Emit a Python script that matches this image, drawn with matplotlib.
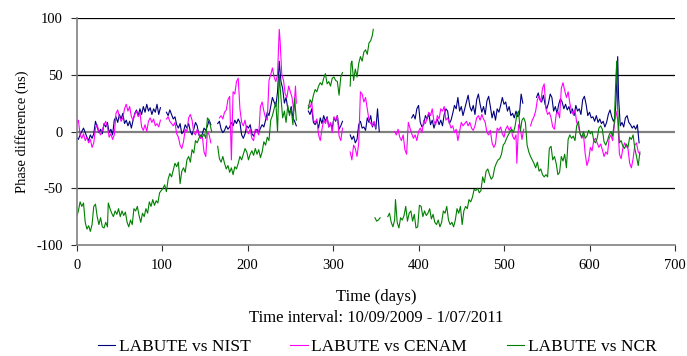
import numpy as np
import matplotlib
matplotlib.use("Agg")
import matplotlib.pyplot as plt

nan = np.nan

# (day, phase difference in ns), nan marks a break in the record
nist = [(0,-5),(2,-7),(4,-3),(6,0),(8,3),(10,-1),(12,-5),(14,-8),(16,-3),(18,-6),
        (20,-2),(22,9),(24,4),(26,-1),(28,2),(30,-2),(32,7),(34,4),(36,8),(38,-1),
        (40,2),(42,-3),(44,10),(46,13),(48,8),(50,15),(52,11),(54,16),(56,7),(58,10),
        (60,5),(62,9),(64,3),(66,10),(68,16),(70,19),(72,14),(74,20),(76,15),(78,22),
        (80,17),(82,24),(84,18),(86,21),(88,15),(90,20),(92,17),(94,24),(96,15),(98,21),
        (101,nan),(105,17),(107,14),(109,19),(111,15),(113,11),(115,13),(117,6),(119,3),
        (121,7),(123,-2),(125,0),(127,6),(129,3),(131,7),(133,0),(135,-3),(137,2),(139,8),
        (141,5),(143,-3),(145,-6),(147,-2),(149,3),(151,1),(153,5),(155,10),(157,6),
        (160,nan),(165,7),(167,9),(169,2),(171,-1),(173,1),(175,5),(177,2),(179,4),(181,8),
        (183,5),(185,10),(187,7),(189,11),(191,8),(193,-3),(195,-6),(197,-2),(199,5),
        (201,3),(203,6),(205,-2),(207,-4),(209,0),(211,2),(213,-1),(215,3),(217,6),(219,4),
        (221,10),(223,17),(225,14),(227,22),(229,30),(231,26),(233,22),(235,35),(237,62),
        (239,44),(241,38),(243,25),(245,30),(247,20),(249,16),(251,22),(253,12),(255,9),
        (257,5),(260,nan),(271,18),(273,15),(275,20),(277,8),(279,6),(281,9),(283,3),
        (285,12),(287,7),(289,14),(291,9),(293,13),(295,4),(297,7),(299,3),(301,12),
        (303,9),(305,14),(307,2),(309,5),(311,9),(314,nan),(320,-3),(322,-7),(324,-4),
        (326,-10),(328,-7),(330,6),(332,9),(334,3),(336,4),(338,1),(340,12),(342,8),
        (344,14),(346,4),(348,8),(350,2),(352,20),(354,0),(356,nan),(392,12),(394,15),
        (396,11),(398,20),(400,23),(402,8),(404,4),(406,6),(408,14),(410,11),(412,16),
        (414,6),(416,10),(418,3),(420,8),(422,11),(424,6),(426,10),(428,5),(430,15),
        (432,20),(434,18),(436,7),(438,10),(440,16),(442,23),(444,20),(446,30),(448,18),
        (450,22),(452,14),(454,20),(456,26),(458,32),(460,22),(462,18),(464,23),(466,15),
        (468,28),(470,33),(472,24),(474,17),(476,22),(478,15),(480,27),(482,31),(484,22),
        (486,12),(488,18),(490,10),(492,20),(494,17),(496,23),(498,30),(500,24),(502,26),
        (504,18),(506,22),(508,14),(510,16),(512,12),(514,18),(516,13),(518,15),(520,33),
        (522,25),(524,nan),(538,30),(540,34),(542,28),(544,26),(546,32),(548,24),(550,20),
        (552,25),(554,33),(556,30),(558,18),(560,22),(562,16),(564,24),(566,29),(568,26),
        (570,20),(572,24),(574,19),(576,22),(578,16),(580,20),(582,14),(584,23),(586,18),
        (588,20),(590,15),(592,28),(594,31),(596,24),(598,14),(600,17),(602,12),(604,13),
        (606,9),(608,14),(610,8),(612,11),(614,7),(616,9),(618,4),(620,8),(622,15),(624,19),
        (626,13),(628,9),(630,12),(632,45),(633,66),(634,30),(636,5),(638,8),(640,4),
        (642,12),(644,14),(646,8),(648,6),(650,3),(652,5),(654,2),(656,6),(658,-10)]

cenam = [(0,8),(2,10),(4,-3),(6,-6),(8,-2),(10,-8),(12,-5),(14,-10),(16,-7),(18,-14),
         (20,-10),(22,3),(24,6),(26,0),(28,-3),(30,1),(32,6),(34,9),(36,4),(38,-5),
         (40,-2),(42,-7),(44,-3),(46,16),(48,19),(50,13),(52,9),(54,12),(56,20),(58,24),
         (60,18),(62,22),(64,13),(66,10),(68,15),(70,18),(72,13),(74,17),(76,4),(78,1),
         (80,6),(82,0),(84,9),(86,12),(88,8),(90,11),(92,5),(94,7),(96,4),(98,10),
         (101,nan),(105,11),(107,13),(109,9),(111,7),(113,5),(115,8),(117,-2),(119,-5),
         (121,-12),(123,-15),(125,-9),(127,2),(129,0),(131,12),(133,15),(135,10),(137,-1),
         (139,-3),(141,2),(143,-2),(145,-6),(147,-4),(149,-18),(151,-22),(153,0),(155,-3),
         (157,-10),(160,nan),(167,12),(169,14),(171,11),(173,17),(175,19),(177,28),(179,31),
         (181,-25),(183,35),(185,33),(187,44),(189,47),(191,20),(193,8),(195,5),(197,10),
         (199,1),(201,-2),(203,2),(205,-6),(207,-8),(209,2),(211,0),(213,-3),(215,22),
         (217,26),(219,18),(221,12),(223,10),(225,45),(227,50),(229,56),(231,48),(233,44),
         (235,50),(237,90),(238,80),(240,50),(242,45),(244,33),(246,30),(248,40),(250,35),
         (252,30),(254,18),(256,40),(257,25),(260,nan),(271,23),(273,21),(275,26),(277,10),
         (279,8),(281,11),(283,-3),(285,-8),(287,2),(289,10),(291,7),(293,12),(295,4),
         (297,8),(299,-1),(301,13),(303,10),(305,14),(307,-4),(309,-8),(311,3),(314,nan),
         (320,-18),(322,-25),(324,-12),(326,-15),(328,-22),(330,-10),(332,35),(334,33),
         (336,26),(338,30),(340,20),(342,10),(344,7),(346,5),(348,9),(350,3),(352,nan),
         (364,10),(366,nan),(372,0),(374,-3),(376,2),(378,-5),(380,-8),(382,-3),(384,-16),
         (386,-20),(388,8),(390,3),(392,-2),(394,-6),(396,-3),(398,-8),(400,0),(402,3),
         (404,-1),(406,10),(408,7),(410,12),(412,17),(414,14),(416,20),(418,9),(420,6),
         (422,14),(424,11),(426,20),(428,18),(430,22),(432,10),(434,12),(436,8),(438,3),
         (440,5),(442,-1),(444,2),(446,-8),(448,0),(450,8),(452,5),(454,7),(456,9),(458,5),
         (460,8),(462,3),(464,1),(466,5),(468,12),(470,14),(472,10),(474,15),(476,11),
         (478,8),(480,-1),(482,-3),(484,1),(486,-10),(488,-14),(490,-11),(492,3),(494,1),
         (496,4),(498,-2),(500,-5),(502,2),(504,5),(506,1),(508,4),(510,-4),(512,-7),
         (514,-3),(515,-28),(517,6),(519,3),(521,-7),(523,2),(526,nan),(531,5),(533,10),
         (535,13),(537,18),(539,28),(541,31),(543,26),(545,38),(547,42),(549,20),(551,15),
         (553,17),(555,12),(557,4),(559,2),(561,15),(563,18),(565,12),(567,38),(569,43),
         (571,36),(573,30),(575,35),(577,25),(579,18),(581,15),(583,19),(585,8),(587,5),
         (589,-2),(591,-6),(593,-3),(595,-20),(597,-30),(599,-25),(601,-14),(603,-17),
         (605,-8),(607,-6),(609,-10),(611,-14),(613,-11),(615,-16),(617,-22),(619,-18),
         (621,-20),(623,-6),(625,-3),(627,-8),(629,5),(631,18),(633,10),(635,-20),(637,-24),
         (639,-15),(641,-10),(643,-13),(645,-15),(647,-28),(649,-32),(651,-24),(653,-12),
         (655,-10),(657,-18),(659,-20)]

ncr = [(0,-75),(2,-70),(4,-62),(6,-66),(8,-63),(10,-80),(12,-86),(14,-83),(16,-88),
       (18,-82),(20,-66),(22,-64),(24,-75),(26,-82),(28,-76),(30,-84),(32,-85),(34,-80),
       (36,-84),(37,-63),(39,-68),(41,-72),(43,-75),(45,-70),(47,-73),(49,-68),(51,-75),
       (53,-70),(55,-74),(57,-71),(59,-80),(61,-84),(63,-78),(65,-82),(67,-68),(69,-70),
       (71,-66),(73,-74),(75,-80),(77,-72),(79,-75),(81,-68),(83,-72),(85,-62),(87,-66),
       (89,-60),(91,-65),(93,-61),(95,-63),(97,-54),(99,-52),(101,-50),(103,-47),(105,-53),
       (107,-42),(109,-37),(111,-40),(113,-34),(115,-28),(117,-31),(119,-27),(121,-46),
       (123,-35),(125,-32),(127,-36),(129,-25),(131,-22),(133,-27),(135,-16),(137,-19),
       (139,-8),(141,-10),(143,-6),(145,-3),(147,-5),(149,-2),(151,-6),(153,12),(155,10),
       (157,3),(158,0),(160,nan),(165,-13),(167,-24),(169,-27),(171,-22),(173,-28),
       (175,-33),(177,-30),(179,-36),(181,-32),(183,-38),(185,-31),(187,-33),(189,-28),
       (191,-22),(193,-25),(195,-20),(197,-15),(199,-18),(201,-25),(203,-20),(205,-17),
       (207,-21),(209,-15),(211,-20),(213,-16),(215,-23),(217,-18),(219,-9),(221,-12),
       (223,-5),(225,-8),(227,10),(229,14),(231,20),(233,26),(235,0),(237,50),(239,30),
       (241,12),(243,18),(245,8),(247,23),(249,14),(251,20),(253,6),(255,29),(257,10),
       (260,nan),(271,20),(273,28),(275,25),(277,32),(279,37),(281,35),(283,40),(285,43),
       (287,41),(289,47),(291,51),(293,42),(295,44),(297,40),(299,47),(301,48),(303,45),
       (305,44),(307,32),(309,48),(311,52),(314,nan),(320,40),(321,60),(322,62),(324,45),
       (326,55),(328,48),(330,60),(332,66),(334,62),(336,70),(338,72),(340,68),(342,78),
       (344,80),(346,85),(347,90),(348,nan),(349,-76),(351,-79),(353,-78),(355,-76),
       (357,nan),(364,-75),(366,-72),(368,-80),(370,-84),(372,-78),(373,-60),(375,-80),
       (377,-85),(379,-76),(381,-78),(383,-74),(385,-66),(387,-79),(389,-72),(391,-70),
       (393,-79),(395,-73),(397,-85),(399,-84),(401,-65),(403,-66),(405,-75),(407,-70),
       (409,-74),(411,-72),(413,-68),(415,-77),(417,-73),(419,-80),(421,-82),(423,-78),
       (425,-84),(427,-80),(429,-70),(431,-72),(433,-66),(435,-78),(437,-82),(439,-80),
       (441,-84),(443,-78),(445,-68),(447,-72),(449,-66),(451,-82),(453,-70),(455,-66),
       (457,-68),(459,-60),(461,-62),(463,-58),(465,-51),(467,-52),(469,-50),(471,-54),
       (473,-52),(475,-40),(477,-45),(479,-35),(481,-33),(483,-38),(485,-42),(487,-40),
       (489,-32),(491,-28),(493,-25),(495,-24),(497,-20),(499,-12),(501,-10),(503,-6),
       (505,-3),(507,0),(509,2),(511,-1),(513,5),(515,15),(517,18),(519,0),(521,10),
       (523,12),(525,8),(527,-12),(529,-18),(531,-22),(533,-25),(535,-28),(537,-32),
       (539,-27),(541,-35),(543,-33),(545,-38),(547,-40),(549,-38),(551,-40),(553,-15),
       (555,-13),(557,-25),(559,-22),(561,-28),(563,-38),(565,-36),(567,-22),(569,-26),
       (571,-20),(573,-32),(575,-7),(577,-3),(579,-6),(581,-4),(583,-8),(585,5),(587,9),
       (589,-2),(591,-5),(593,0),(595,-6),(597,-4),(599,1),(601,-2),(603,0),(605,-8),
       (607,-10),(609,-6),(611,3),(613,5),(615,2),(617,-9),(619,-12),(621,-8),(623,-3),
       (625,0),(627,-4),(629,8),(630,30),(631,50),(632,62),(633,20),(635,-10),(637,-8),
       (639,-13),(641,-15),(643,-11),(645,-14),(647,-5),(649,-7),(651,-3),(653,-15),
       (655,-22),(657,-30),(659,-18)]

labels = ["LABUTE vs NIST", "LABUTE vs CENAM", "LABUTE vs NCR"]
colors = ["#000080", "#ff00ff", "#008000"]

plt.rcParams['font.family'] = ['Liberation Serif', 'DejaVu Serif']
plt.rcParams['axes.unicode_minus'] = False

fig = plt.figure(figsize=(6.87, 3.56), dpi=100)
ax = fig.add_axes([0.1116, 0.3118, 0.8709, 0.6376])

for data, lab, col in zip([nist, cenam, ncr], labels, colors):
    d, v = zip(*data)
    ax.plot(d, v, color=col, lw=0.8, label=lab)

ax.set_xlim(0, 700)
ax.set_ylim(-100, 100)
ax.set_xticks(range(0, 701, 100))
ax.set_yticks([-100, -50, 0, 50, 100])
for yv in [-50, 50, 100]:
    ax.axhline(yv, color="black", lw=0.9, zorder=0)
ax.axhline(0, color="#808080", lw=1.6, zorder=0)

for s in ["top", "right"]:
    ax.spines[s].set_visible(False)
for s in ["left", "bottom"]:
    ax.spines[s].set_color("#808080")
    ax.spines[s].set_linewidth(1.2)
ax.tick_params(direction="out", length=4, color="#303030", labelsize=10.5, pad=6)

ax.set_ylabel("Phase difference (ns)", fontsize=10.5, labelpad=5)
fig.text(0.547, 0.166, "Time (days)", ha="center", va="center", fontsize=12)
fig.text(0.547, 0.107, "Time interval: 10/09/2009 - 1/07/2011", ha="center", va="center", fontsize=12)

fig.legend(loc="center", bbox_to_anchor=(0.549, 0.025), ncol=3, frameon=False,
           fontsize=12.5, handlelength=1.0, handletextpad=0.2, columnspacing=2.3)

fig.savefig("out.png", dpi=100)
